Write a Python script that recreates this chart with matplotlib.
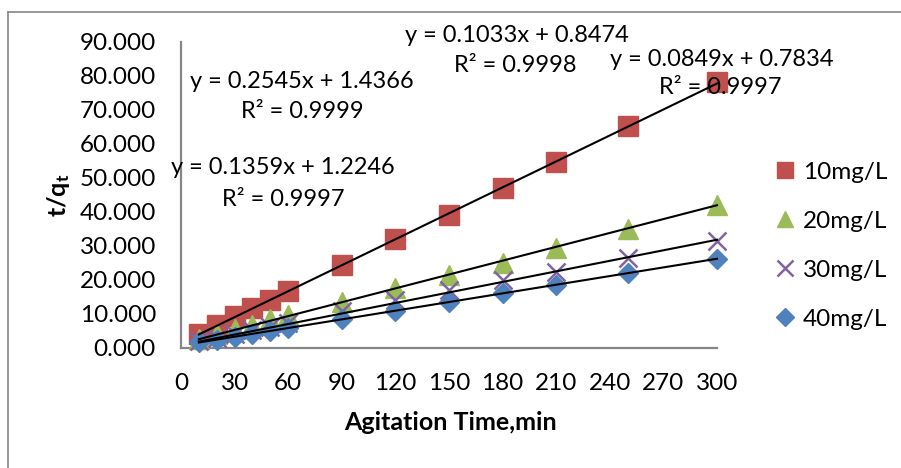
import matplotlib
matplotlib.use("Agg")
import matplotlib.pyplot as plt
import numpy as np

plt.rcParams['font.family'] = ['Lato', 'DejaVu Sans']
plt.rcParams['mathtext.fontset'] = 'custom'
plt.rcParams['mathtext.rm'] = 'Lato'
plt.rcParams['mathtext.bf'] = 'Lato:bold'

time_min = [10, 20, 30, 40, 50, 60, 90, 120, 150, 180, 210, 250, 300]
series_names = ["10mg/L", "20mg/L", "30mg/L", "40mg/L"]
t_q_10 = [4.0, 6.7, 9.3, 11.9, 14.2, 16.7, 24.4, 32.0, 39.2, 47.0, 54.8, 65.3, 78.2]
t_q_20 = [2.6, 4.1, 5.5, 6.9, 8.4, 9.8, 13.6, 17.7, 21.5, 25.1, 29.4, 35.1, 42.1]
t_q_30 = [2.0, 3.0, 4.0, 5.2, 6.3, 7.3, 11.0, 14.0, 17.2, 20.0, 22.3, 26.6, 31.6]
t_q_40 = [1.65, 2.5, 3.3, 4.2, 5.0, 5.9, 8.5, 10.9, 13.5, 16.2, 18.5, 22.0, 26.2]
slopes = [0.2545, 0.1359, 0.1033, 0.0849]
intercepts = [1.4366, 1.2246, 0.8474, 0.7834]
r2_values = ["0.9999", "0.9997", "0.9998", "0.9997"]
x_ticks = list(range(0, 301, 30))
y_ticks = list(range(0, 91, 10))

W, H = 901, 468
fig = plt.figure(figsize=(W / 100, H / 100), dpi=100)
fig.patch.set_facecolor('white')

# outer chart border (top and left visible)
fig.add_artist(plt.Line2D([8 / W, 1.0], [1 - 12 / H, 1 - 12 / H], color='#868686', lw=1.2, transform=fig.transFigure))
fig.add_artist(plt.Line2D([8 / W, 8 / W], [0, 1 - 12 / H], color='#868686', lw=1.2, transform=fig.transFigure))

L, R, T, B = 181, 717, 42, 348
ax = fig.add_axes([L / W, 1 - B / H, (R - L) / W, (B - T) / H])
ax.set_xlim(0, 300)
ax.set_ylim(0, 90)

styles = [
    dict(marker='s', color='#C0504D', ms=14, ls='none'),
    dict(marker='^', color='#9BBB59', ms=14, ls='none'),
    dict(marker='x', color='#8064A2', ms=13, mew=1.8, ls='none'),
    dict(marker='D', color='#4F81BD', ms=10, ls='none'),
]
data = [t_q_10, t_q_20, t_q_30, t_q_40]
for name, ys, st in zip(series_names, data, styles):
    ax.plot(time_min, ys, label=name, clip_on=False, zorder=3, **st)

xs = np.array([time_min[0], time_min[-1]])
for m, b in zip(slopes, intercepts):
    ax.plot(xs, m * xs + b, color='black', lw=1.5, zorder=4, clip_on=False)

for s in ['top', 'right']:
    ax.spines[s].set_visible(False)
for s in ['left', 'bottom']:
    ax.spines[s].set_color('#868686')
    ax.spines[s].set_linewidth(1.6)

ax.set_xticks(x_ticks)
ax.set_yticks(y_ticks)
ax.set_yticklabels([f"{v:.3f}" for v in y_ticks])
ax.tick_params(length=0, labelsize=17.5)
ax.tick_params(axis='y', pad=18)
ax.tick_params(axis='x', pad=18)

fig.text(450 / W, 1 - 423 / H, "Agitation Time,min", ha='center', va='center', fontsize=18, fontweight='bold')
fig.text(59 / W, 1 - 195 / H, r"$\mathbf{t/q_t}$", ha='center', va='center', fontsize=18, rotation=90)

# trendline labels (equation and R^2) placed in pixel positions
eq_pos = [((302, 82), (302, 112)), ((283, 168), (283, 200)), ((517, 35), (515, 66)), ((722, 60), (720, 87))]
for m, b, r2, (p1, p2) in zip(slopes, intercepts, r2_values, eq_pos):
    fig.text(p1[0] / W, 1 - p1[1] / H, f"y = {m}x + {b}", ha='center', va='center', fontsize=17)
    fig.text(p2[0] / W, 1 - p2[1] / H, f"R² = {r2}", ha='center', va='center', fontsize=17)

leg = fig.legend(loc='upper left', bbox_to_anchor=(764 / W, 1 - 152 / H), frameon=False,
                 fontsize=17.5, handlelength=0.9, handletextpad=0.3, labelspacing=1.15,
                 borderaxespad=0)
for h in leg.legend_handles:
    if h.get_marker() == 's':
        h.set_markersize(12)
    elif h.get_marker() == '^':
        h.set_markersize(12)
    elif h.get_marker() == 'x':
        h.set_markersize(11)
    else:
        h.set_markersize(9)

fig.savefig("out.png", dpi=100, facecolor='white')
